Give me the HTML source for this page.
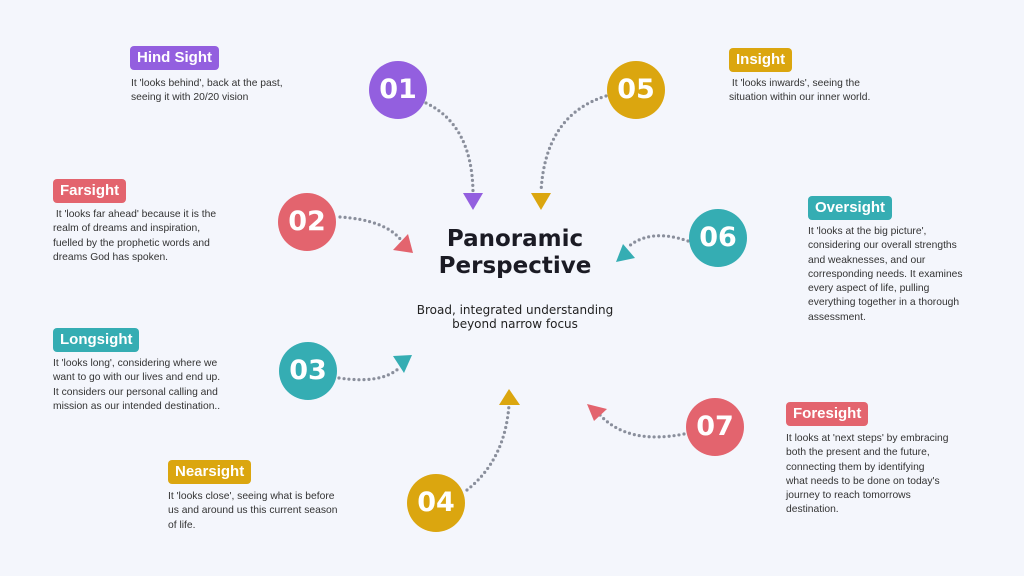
<!DOCTYPE html>
<html><head><meta charset="utf-8"><style>
body{margin:0;width:1024px;height:576px;background:#f4f6fc;position:relative;overflow:hidden;font-family:"Liberation Sans",sans-serif}
.b{position:absolute;color:#fff;font-weight:bold;font-size:15px;padding:0 7px;height:24px;line-height:24px;border-radius:4px}
.t{position:absolute;font-size:10.3px;line-height:14.3px;color:#333}
.c{position:absolute;width:58px;height:58px;border-radius:50%;color:#fff;font-weight:bold;font-size:27px;text-align:center;line-height:58px;margin:-29px 0 0 -29px;font-family:"DejaVu Sans",sans-serif}
.P{background:#935fdf}.R{background:#e3646e}.T{background:#35adb3}.G{background:#dba60f}
</style></head><body>
<svg width="1024" height="576" style="position:absolute;left:0;top:0">
<g fill="none" stroke="#8a8f9c" stroke-width="3.2" stroke-dasharray="0 5" stroke-linecap="round">
<path d="M426,103 Q472,125 473,192"/>
<path d="M606,96 Q545,115 541,192"/>
<path d="M340,217 Q385,220 401,240"/>
<path d="M688,241 Q650,228 628,247"/>
<path d="M339,378 Q380,384 398,369"/>
<path d="M467,490 Q505,460 509,405"/>
<path d="M684,434 Q628,445 600,415"/>
</g>
<polygon fill="#935fdf" points="463,193 483,193 473,210"/>
<polygon fill="#dba60f" points="531,193 551,193 541,210"/>
<polygon fill="#e3646e" points="393,250 413,253 408,234"/>
<polygon fill="#35adb3" points="616,262 635,258 623,244"/>
<polygon fill="#35adb3" points="393,356 412,355 404,373"/>
<polygon fill="#dba60f" points="499,405 520,405 509,389"/>
<polygon fill="#e3646e" points="587,404 607,409 594,421"/>
</svg>
<div class="c P" style="left:398px;top:90px">01</div>
<div class="c G" style="left:636px;top:90px">05</div>
<div class="c R" style="left:307px;top:222px">02</div>
<div class="c T" style="left:718px;top:238px">06</div>
<div class="c T" style="left:308px;top:371px">03</div>
<div class="c R" style="left:715px;top:427px">07</div>
<div class="c G" style="left:436px;top:503px">04</div>

<div style="position:absolute;left:405px;top:226px;width:220px;text-align:center;font-weight:bold;font-size:23px;line-height:27px;color:#1b1b24;font-family:'DejaVu Sans',sans-serif">Panoramic<br>Perspective</div>
<div style="position:absolute;left:395px;top:303px;width:240px;text-align:center;font-size:12px;line-height:14px;color:#222;font-family:'DejaVu Sans',sans-serif">Broad, integrated understanding<br>beyond narrow focus</div>

<div class="b P" style="left:130px;top:46px">Hind Sight</div>
<div class="t" style="left:131px;top:77px">It 'looks behind', back at the past,<br>seeing it with 20/20 vision</div>
<div class="b R" style="left:53px;top:179px">Farsight</div>
<div class="t" style="left:53px;top:208px">&nbsp;It 'looks far ahead' because it is the<br>realm of dreams and inspiration,<br>fuelled by the prophetic words and<br>dreams God has spoken.</div>
<div class="b T" style="left:53px;top:328px">Longsight</div>
<div class="t" style="left:53px;top:357px">It 'looks long', considering where we<br>want to go with our lives and end up.<br>It considers our personal calling and<br>mission as our intended destination..</div>
<div class="b G" style="left:168px;top:460px">Nearsight</div>
<div class="t" style="left:168px;top:490px">It 'looks close', seeing what is before<br>us and around us this current season<br>of life.</div>
<div class="b G" style="left:729px;top:48px">Insight</div>
<div class="t" style="left:729px;top:77px">&nbsp;It 'looks inwards', seeing the<br>situation within our inner world.</div>
<div class="b T" style="left:808px;top:196px">Oversight</div>
<div class="t" style="left:808px;top:225px">It 'looks at the big picture',<br>considering our overall strengths<br>and weaknesses, and our<br>corresponding needs. It examines<br>every aspect of life, pulling<br>everything together in a thorough<br>assessment.</div>
<div class="b R" style="left:786px;top:402px">Foresight</div>
<div class="t" style="left:786px;top:432px">It looks at 'next steps' by embracing<br>both the present and the future,<br>connecting them by identifying<br>what needs to be done on today's<br>journey to reach tomorrows<br>destination.</div>
</body></html>
